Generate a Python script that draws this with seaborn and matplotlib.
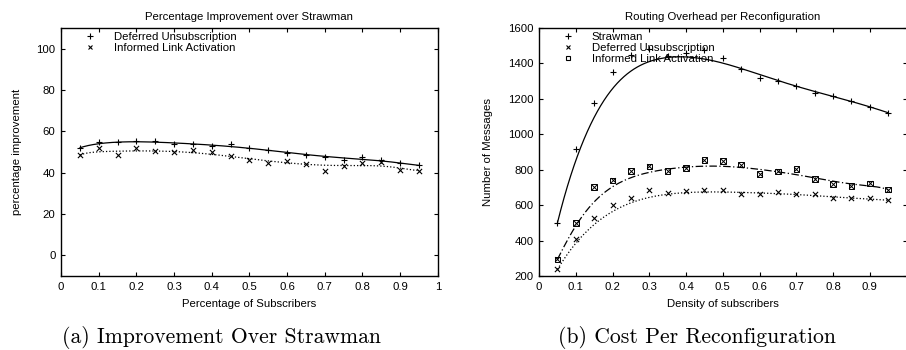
import numpy as np
import pandas as pd
import matplotlib
matplotlib.use("Agg")
import matplotlib.pyplot as plt
import seaborn as sns
from math import comb
from matplotlib.lines import Line2D

# dane
x = [0.05, 0.10, 0.15, 0.20, 0.25, 0.30, 0.35, 0.40, 0.45, 0.50,
     0.55, 0.60, 0.65, 0.70, 0.75, 0.80, 0.85, 0.90, 0.95]

imp_deferred = [52, 55, 55, 55.5, 55.5, 54, 54, 53, 54, 52,
                51, 49.5, 48.5, 47.5, 46, 47.5, 46, 44.5, 43.5]
imp_informed = [48.5, 52, 48.5, 52, 50.5, 50, 51, 50, 48, 46,
                44.5, 45.5, 44, 41, 43, 44.5, 45, 41.5, 41]

cost_strawman = [500, 919, 1175, 1353, 1446, 1478, 1440, 1456, 1475, 1430,
                 1366, 1319, 1300, 1270, 1235, 1213, 1190, 1155, 1121]
cost_deferred = [237, 410, 526, 599, 640, 683, 668, 679, 683, 687,
                 664, 664, 672, 662, 662, 638, 638, 638, 627]
cost_informed = [294, 499, 703, 739, 793, 818, 793, 808, 853, 848,
                 829, 776, 790, 805, 748, 720, 709, 722, 688]

df_a = pd.DataFrame({"x": x, "deferred": imp_deferred, "informed": imp_informed})
df_b = pd.DataFrame({"x": x, "strawman": cost_strawman,
                     "deferred": cost_deferred, "informed": cost_informed})


def bezier(xs, ys, n=200):
    # wygladzanie jak "smooth bezier" w gnuplocie
    xs = np.asarray(xs, float)
    ys = np.asarray(ys, float)
    k = len(xs) - 1
    t = np.linspace(0, 1, n)
    w = np.array([comb(k, i) * t**i * (1 - t)**(k - i) for i in range(k + 1)])
    return pd.DataFrame({"x": xs @ w, "y": ys @ w})


sns.set_style("ticks", {"axes.edgecolor": "black", "axes.labelcolor": "black",
                        "text.color": "black", "xtick.color": "black",
                        "ytick.color": "black"})
plt.rcParams["font.family"] = ["Liberation Sans", "DejaVu Sans"]
plt.rcParams["xtick.direction"] = "in"
plt.rcParams["ytick.direction"] = "in"
plt.rcParams["xtick.top"] = True
plt.rcParams["ytick.right"] = True
plt.rcParams["xtick.major.size"] = 3
plt.rcParams["ytick.major.size"] = 3
plt.rcParams["axes.linewidth"] = 1.0

fs = 8.2
fig = plt.figure(figsize=(9.06, 3.5), dpi=100)
ax1 = fig.add_axes([0.0673, 0.2114, 0.416, 0.709])
ax2 = fig.add_axes([0.595, 0.2114, 0.4057, 0.709])


def punkty(ax, df, col, style):
    if style == "plus":
        sns.scatterplot(data=df, x="x", y=col, marker="+", s=24, color="black",
                        linewidth=0.8, ax=ax)
    elif style == "cross":
        sns.scatterplot(data=df, x="x", y=col, marker="x", s=14, color="black",
                        linewidth=0.8, ax=ax)
    else:
        sns.scatterplot(data=df, x="x", y=col, marker="s", s=16, facecolor="none",
                        edgecolor="black", linewidth=0.7, ax=ax)
        sns.scatterplot(data=df, x="x", y=col, marker="x", s=12, color="black",
                        linewidth=0.7, ax=ax)


def linia(ax, df, col, ls):
    sm = bezier(df["x"], df[col])
    sns.lineplot(data=sm, x="x", y="y", color="black", lw=0.9, ls=ls,
                 sort=False, estimator=None, ax=ax)


# (a)
linia(ax1, df_a, "deferred", "-")
linia(ax1, df_a, "informed", ":")
punkty(ax1, df_a, "deferred", "plus")
punkty(ax1, df_a, "informed", "cross")
ax1.set_xlim(0, 1)
ax1.set_ylim(-10, 110)
ax1.set_xticks(np.arange(0, 1.01, 0.1))
ax1.set_xticklabels(["0", "0.1", "0.2", "0.3", "0.4", "0.5", "0.6", "0.7", "0.8", "0.9", "1"])
ax1.set_yticks([0, 20, 40, 60, 80, 100])
ax1.set_title("Percentage Improvement over Strawman", fontsize=fs, pad=6)
ax1.set_xlabel("Percentage of Subscribers", fontsize=fs, labelpad=5)
ax1.set_ylabel("percentage improvement", fontsize=fs, labelpad=10)
h1 = [Line2D([], [], ls="none", marker="+", color="black", ms=4.5, mew=0.8),
      Line2D([], [], ls="none", marker="x", color="black", ms=3.5, mew=0.8)]
ax1.legend(h1, ["Deferred Unsubscription", "Informed Link Activation"],
           loc="upper left", bbox_to_anchor=(0.027, 1.025), frameon=False,
           fontsize=fs, handlelength=1.5, handletextpad=1.35, labelspacing=0.1)

# (b)
linia(ax2, df_b, "strawman", "-")
linia(ax2, df_b, "deferred", ":")
linia(ax2, df_b, "informed", (0, (6, 2, 1, 2)))
punkty(ax2, df_b, "strawman", "plus")
punkty(ax2, df_b, "deferred", "cross")
punkty(ax2, df_b, "informed", "box")
ax2.set_xlim(0, 1)
ax2.set_ylim(200, 1600)
ax2.set_xticks(np.arange(0, 0.91, 0.1))
ax2.set_xticklabels(["0", "0.1", "0.2", "0.3", "0.4", "0.5", "0.6", "0.7", "0.8", "0.9"])
ax2.set_yticks(np.arange(200, 1601, 200))
ax2.set_title("Routing Overhead per Reconfiguration", fontsize=fs, pad=6)
ax2.set_xlabel("Density of subscribers", fontsize=fs, labelpad=5)
ax2.set_ylabel("Number of Messages", fontsize=fs, labelpad=11)
h2 = [Line2D([], [], ls="none", marker="+", color="black", ms=4.5, mew=0.8),
      Line2D([], [], ls="none", marker="x", color="black", ms=3.5, mew=0.8),
      Line2D([], [], ls="none", marker="s", mfc="none", mec="black", ms=3.5, mew=0.8)]
ax2.legend(h2, ["Strawman", "Deferred Unsubscription", "Informed Link Activation"],
           loc="upper left", bbox_to_anchor=(0.027, 1.025), frameon=False,
           fontsize=fs, handlelength=1.5, handletextpad=1.35, labelspacing=0.1)

for ax in (ax1, ax2):
    ax.tick_params(labelsize=fs, width=0.8, pad=4)

fig.text(0.245, 0.02, "(a) Improvement Over Strawman", family="cmr10",
         fontsize=15.6, ha="center")
fig.text(0.769, 0.02, "(b) Cost Per Reconfiguration", family="cmr10",
         fontsize=15.6, ha="center")

fig.savefig("out.png", dpi=100)
